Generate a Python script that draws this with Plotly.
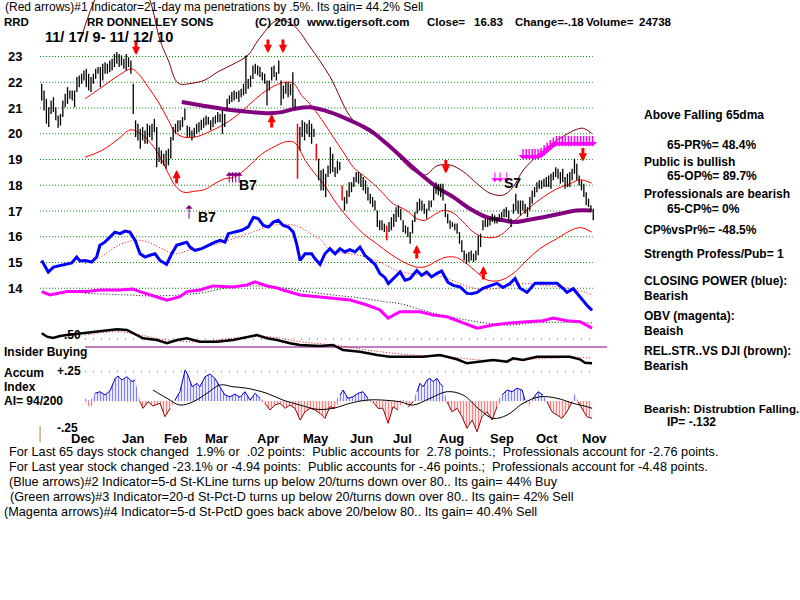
import plotly.graph_objects as go

# ---------------- DATA ----------------
# daily price bars (index 0 = 11/17/09 ... last = 11/12/10)
HIGH = [21.94,21.68,21.36,21.03,21.29,21.42,21.03,20.71,20.77,21.29,
        21.55,21.81,21.68,21.68,21.68,22.20,22.26,22.33,22.46,22.52,
        22.33,22.20,22.33,22.52,22.59,22.59,22.72,22.78,22.72,22.84,
        22.91,23.10,23.17,23.10,23.04,22.91,23.10,22.97,22.84,21.94,
        20.52,20.39,20.19,20.26,20.13,20.39,20.32,20.39,20.58,20.26,
        19.48,19.35,19.22,19.35,19.42,19.87,20.26,20.39,20.52,20.52,
        20.65,20.97,20.32,20.26,20.13,20.23,20.39,20.45,20.54,20.62,
        20.71,20.65,20.52,20.65,20.71,20.84,20.77,20.90,20.77,21.36,
        21.49,21.62,21.68,21.62,21.68,21.75,21.94,23.04,22.13,22.26,
        22.65,22.72,22.65,22.59,22.39,22.33,22.07,22.07,22.59,22.65,
        22.39,22.84,22.07,21.87,22.00,22.00,21.94,22.39,21.36,20.39,
        20.26,20.52,20.45,20.39,20.52,20.39,20.19,19.61,19.03,18.58,
        18.64,18.45,18.77,19.48,19.22,18.70,18.96,18.90,17.99,17.54,
        17.80,18.12,18.12,18.32,18.51,18.51,18.45,18.32,18.19,17.93,
        17.67,17.54,17.41,17.02,16.64,16.64,16.51,16.44,16.57,16.76,
        16.89,17.15,17.22,17.09,16.64,16.44,16.38,16.18,16.64,16.96,
        17.35,17.48,17.41,17.28,17.09,17.41,17.41,17.93,18.12,18.06,
        18.06,18.06,17.28,16.89,16.64,16.57,16.51,16.51,16.18,15.86,
        15.47,15.34,15.41,15.47,15.34,15.47,16.05,16.12,16.64,16.70,
        16.70,16.76,16.89,16.83,16.76,16.89,16.96,17.09,17.15,17.02,
        16.70,17.28,17.67,17.41,17.41,17.41,17.28,17.15,17.54,17.80,
        17.93,18.12,18.19,18.19,18.25,18.32,18.38,18.45,18.51,18.70,
        18.64,18.51,18.64,18.32,18.45,18.51,18.64,19.03,18.83,18.38,
        18.19,18.06,17.73,17.48,17.22,17.09]
LOW = [21.29,20.90,20.39,20.26,20.77,20.84,20.52,20.23,20.32,20.65,
       21.03,21.16,21.36,21.29,21.03,21.62,21.81,21.94,22.07,21.81,
       21.68,21.62,21.94,22.13,22.33,21.81,22.07,22.33,22.33,22.39,
       22.46,22.59,22.72,22.59,22.65,22.52,22.46,22.59,22.33,20.77,
       19.87,19.74,19.42,19.74,19.61,19.61,19.87,19.74,20.06,18.70,
       18.90,18.83,18.77,18.64,18.77,19.03,19.74,20.00,20.06,20.13,
       20.26,20.52,19.87,19.87,19.74,19.87,20.00,20.06,20.15,20.23,
       20.32,20.36,20.15,20.26,20.39,20.45,20.45,20.00,20.26,20.90,
       21.16,21.23,21.29,21.36,21.23,21.42,21.49,21.55,21.75,21.81,
       22.13,22.33,22.26,22.20,22.07,21.94,21.10,21.68,22.07,22.20,
       22.07,22.33,21.10,21.36,21.55,21.42,21.49,21.03,20.97,18.25,
       19.35,19.87,19.74,20.00,19.87,19.61,19.87,18.96,18.19,17.80,
       17.80,17.54,18.32,18.45,18.51,18.32,18.45,18.58,17.41,17.02,
       17.28,17.54,17.73,17.93,18.12,18.06,17.93,17.80,17.67,17.41,
       17.28,17.15,17.02,16.38,16.25,16.25,16.18,15.86,16.18,16.25,
       16.38,16.57,16.76,16.64,16.18,16.12,15.99,15.73,16.12,16.57,
       16.89,17.02,17.02,16.89,16.70,17.02,17.15,17.41,17.67,17.61,
       17.54,17.41,16.76,16.51,16.31,16.38,16.25,16.12,15.73,15.41,
       15.08,14.95,15.02,15.08,15.02,15.08,15.28,15.60,16.25,16.38,
       16.38,16.44,16.57,16.51,16.51,16.57,16.64,16.76,16.76,16.64,
       16.38,16.89,17.02,16.89,16.83,17.02,16.89,16.76,17.02,17.28,
       17.54,17.73,17.86,17.86,17.93,17.93,17.93,17.86,18.19,18.32,
       18.25,18.06,18.12,17.86,17.93,17.93,18.19,18.45,18.19,17.99,
       17.80,17.54,17.22,17.15,16.96,16.64]
RED_BARS = [109, 117, 128, 147]

# 21-day moving average (red)
MA21_X = [18.5,25.6,32.7,38.3,41.2,45.4,49.7,54.0,56.8,60.4,65.3,71.0,76.7,82.4,88.1,93.7,
          99.4,103.7,107.2,110.8,114.3,119.3,124.2,128.5,132.8,137.0,141.3,145.6,149.8,155.5,
          159.8,163.3,166.9,171.1,175.4,179.6,183.9,188.2,193.8,198.1,202.4,208.1,213.7,219.4,
          225.1,229.4,234.3]
MA21_Y = [21.36,21.81,22.26,22.52,22.33,21.81,21.23,20.52,20.06,19.87,19.87,20.06,20.32,20.65,21.10,21.55,
          21.87,22.00,21.96,21.49,21.15,20.55,19.87,19.29,18.70,18.38,18.06,17.67,17.28,17.02,
          16.70,16.64,16.83,17.02,16.92,16.57,16.18,15.99,15.99,16.25,16.70,17.15,17.54,17.86,
          18.06,18.21,18.08]
# lower band (red)
LOWB_X = [18.5,25.6,32.7,37.6,41.2,45.4,49.7,54.0,56.8,60.4,65.3,69.4,73.7,77.9,82.2,87.8,93.6,
          99.4,103.5,107.2,109.4,112.3,116.4,120.0,125.7,131.4,137.0,142.7,148.4,154.1,159.8,
          164.0,168.3,172.5,176.8,181.1,185.3,189.6,193.8,198.1,202.4,206.6,212.3,219.4,226.5,
          230.1,234.3]
LOWB_Y = [19.09,19.35,19.80,20.15,20.06,19.74,19.22,18.45,17.99,17.73,17.77,17.83,18.06,18.25,18.32,18.70,19.20,
          19.51,19.68,19.68,19.48,18.96,18.45,18.06,17.28,16.64,16.12,15.73,15.34,15.02,14.82,
          14.85,15.06,15.21,15.19,14.95,14.63,14.33,14.28,14.41,14.69,15.08,15.54,15.92,16.29,
          16.35,16.18]
# upper band (maroon)
UPB_X = [16.3,24.8,37.6,46.1,50.4,53.9,58.2,63.9,69.6,75.2,82.4,88.0,92.3,100.3,107.1,114.3,
         122.8,132.6,142.7,149.8,157.0,163.4,168.3,174.0,179.6,185.3,191.0,196.7,200.9,205.2,
         212.3,220.8,227.9,230.8,234.3]
UPB_Y = [23.56,25.6,27.0,25.2,23.64,22.86,21.96,21.96,22.09,22.41,22.74,23.06,23.64,24.40,24.22,23.38,
         22.22,20.53,19.89,19.37,18.66,18.40,18.75,18.79,18.53,18.08,17.69,17.62,17.94,18.59,
         19.24,19.82,20.17,20.21,20.02]
# 65-day moving average (purple, thick)
MA65_X = [59.7,68.2,76.7,82.4,89.5,96.6,102.3,107.9,114.3,122.8,131.4,139.9,147.0,154.1,161.2,
          168.3,175.4,182.5,189.6,196.7,201.0,206.6,213.7,220.8,227.9,234.3]
MA65_Y = [21.23,21.10,20.97,20.90,20.84,20.80,20.84,20.97,21.03,20.84,20.52,20.13,19.61,19.03,18.45,
          17.93,17.54,17.09,16.76,16.64,16.57,16.64,16.76,16.89,17.02,17.02]

# Closing Power (blue) - plotted against the price grid
CP_X = [0,2.8,5.0,8.5,12.8,14.9,16.3,18.5,21.3,23.4,24.8,26.9,29.1,31.2,33.4,35.5,37.6,39.8,
        41.9,44.0,46.1,48.3,50.4,53.2,55.4,57.5,59.6,61.8,63.2,65.3,68.2,71.0,73.8,76.0,78.1,
        79.5,82.4,85.2,88.0,90.2,92.3,94.4,96.6,98.7,100.8,102.9,105.1,107.2,108.6,110.1,112.2,
        115.0,116.4,118.6,120.7,122.8,125.0,127.1,129.2,131.3,133.5,135.6,137.7,139.9,142.0,
        144.1,146.3,147.7,149.8,152.7,154.8,156.9,159.8,161.9,164.0,166.1,168.3,170.4,173.1,
        175.4,178.2,181.2,183.2,185.5,188.0,191.0,194.0,196.5,199.5,201.7,203.8,206.8,210.2,
        215.3,219.6,222.3,223.8,226.5,228.1,230.1,232.3,234.5]
CP_Y = [15.08,14.63,14.82,14.89,14.98,15.21,15.06,15.08,15.02,15.21,15.67,15.79,15.99,16.18,16.12,
        16.22,16.18,15.86,15.34,15.21,15.28,15.34,15.08,14.93,15.34,15.67,15.73,15.79,15.60,15.47,
        15.54,15.67,15.79,15.86,15.79,16.12,16.18,16.25,16.38,16.76,16.70,16.44,16.38,16.57,16.64,
        16.44,16.38,16.18,15.73,15.08,15.34,15.34,
        15.15,14.93,15.34,15.54,15.34,15.54,15.41,15.50,15.41,15.60,15.28,15.11,14.93,14.57,14.41,
        14.18,14.37,14.63,14.31,14.37,14.69,14.50,14.63,14.44,14.57,14.67,14.23,14.11,14.05,13.80,
        13.79,13.84,14.00,14.11,14.19,14.03,14.18,14.38,14.00,13.84,14.19,14.19,14.19,13.98,13.84,
        13.98,13.80,13.59,13.34,13.14]
CPMA_X = [18.5,25.6,32.7,39.8,45.4,51.1,56.8,62.5,71.0,79.5,88.0,96.6,102.3,108.0,113.6,119.3,
          122.8,131.3,138.4,145.6,151.2,156.9,164.0,171.1,178.2,185.3,192.4,199.5,206.6,213.7,
          220.8,227.9,234.3]
CPMA_Y = [14.95,15.24,15.67,15.86,15.79,15.54,15.34,15.47,15.63,15.86,16.12,16.40,16.48,16.44,16.18,15.85,
          15.47,15.34,15.21,14.95,14.69,14.57,14.50,14.44,14.18,13.98,13.98,14.11,14.18,14.11,
          14.05,13.94,13.76]
# OBV (magenta) - plotted against the price grid
OBV_X = [0,3.5,10.8,19.3,24.8,33.3,38.9,41.9,50.4,53.4,58.9,61.9,67.4,73.0,81.5,87.5,90.9,96.0,
         100.3,102.8,110.1,117.3,124.1,131.4,138.6,144.1,147.6,152.7,161.2,166.7,172.7,178.2,
         185.5,192.3,199.5,206.8,213.6,217.9,223.8,229.4,234.5]
OBV_Y = [13.87,13.74,13.87,13.87,13.93,13.93,13.97,13.87,13.62,13.54,13.67,13.87,13.93,14.09,14.05,
         14.13,14.25,14.09,14.01,13.93,13.74,13.67,13.62,13.54,13.35,13.16,12.84,13.09,13.09,12.96,
         12.89,12.70,12.45,12.57,12.65,12.70,12.74,12.84,12.74,12.70,12.45]
OBVMA_X = [18.5,36.5,46.5,59,67.4,79,93,103,113,124,136,146,152.7,166.7,181,189.7,199.5,209,220.8,234.5]
OBVMA_Y = [13.80,13.74,13.70,13.74,13.81,14.01,14.09,14.01,13.87,13.74,13.62,13.48,13.40,13.04,
           12.77,12.65,12.57,12.65,12.68,12.65]

# Relative strength vs DJI (black), arbitrary units, 0 = the purple reference line
RS_X = [0,2.3,4.8,7.8,10.8,15,17.6,21.9,27.8,32.1,36.3,38.9,43.2,49.1,53.4,57.7,61.9,67.4,74.7,
        81.5,87.5,91.7,96,100.3,105.8,110.1,118.6,124.1,128.4,135.6,142.9,148.4,155.6,162.5,
        169.7,176.9,181.2,186.8,192.3,198.3,200.8,205.1,211,217.9,225,229.3,231.5,234.5]
RS_V = [13.7,10.3,9,11,12,13,14,15.3,16.3,17.7,17,13.7,8.7,7,3.7,7,8.7,5.3,5.3,7,10.3,12,8.7,7,
        3.7,2,1,2,-3,-4.7,-8,-9.7,-9.7,-9.7,-8,-12.3,-16.3,-14.7,-13,-14.7,-11.3,-13,-9.7,-9.7,
        -9.7,-12.3,-15.7,-16.3]
RSMA_X = [18.5,32.1,41.9,53.4,67.4,81.5,96,110.1,124.1,138.6,144.1,158,172.7,186.8,200.8,215.3,229.4,234.5]
RSMA_V = [12,15.3,12,7,5.3,8.7,10.3,5.3,2,-3,-4.7,-8,-9.7,-13,-13,-11.3,-10.3,-11.3]

# Accumulation index
AI_X = [18.4,20.6,22.7,24.8,27.0,29.1,31.3,32.5,34.2,36.3,38.5,39.8,41.9,43.2,45.3,47.4,50.4,52.5,
        54.7,56.8,58.9,61.1,62.3,64.1,66.2,67.4,69.6,71.7,73.8,75.9,78.1,80.2,82.4,84.5,86.6,88.8,
        90.9,93.0,95.1,97.3,99.4,101.5,103.7,105.8,107.9,110.1,112.2,114.3,116.4,118.6,120.7,
        122.8,125.0,127.1,128.4,130.5,132.6,134.8,136.9,139.0,141.1,143.3,145.4,147.6,149.7,
        151.8,153.9,156.1,158.2,159.9,161.2,162.5,164.2,165.5,166.7,168.4,169.7,171.0,172.7,
        174.8,177.0,179.1,181.2,183.4,185.5,187.6,189.7,191.9,194.0,196.1,198.3,200.4,202.5,
        204.7,205.9,207.5,209.3,211.5,213.6,215.3,217.4,219.6,221.7,223.8,226.0,227.2,228.5,
        230.6,232.3,234.5]
AI_V = [0.023,-0.062,0.065,0.079,0.051,0.087,0.192,0.212,0.178,0.206,0.164,0.178,-0.006,-0.062,
        -0.006,-0.042,-0.019,-0.133,-0.062,0.008,0.079,0.263,0.220,0.121,0.150,0.121,0.206,0.229,
        0.192,0.121,0.051,0.036,0.059,0.031,0.079,0.008,0.065,0.023,-0.019,-0.076,-0.034,-0.019,
        -0.062,-0.034,-0.062,-0.161,-0.091,-0.062,-0.076,-0.104,-0.147,-0.048,-0.062,0.051,0.093,
        0.023,0.036,0.065,0.079,0.023,-0.006,-0.062,-0.062,-0.189,-0.048,-0.076,0.008,-0.053,
        -0.006,0.079,0.150,0.121,0.178,0.192,0.164,0.192,0.150,0.121,-0.006,-0.091,-0.062,-0.133,
        -0.231,-0.161,-0.260,-0.133,-0.091,-0.161,-0.048,0.051,0.093,0.079,0.108,0.093,0.008,
        -0.048,0.023,0.079,0.051,-0.006,-0.091,-0.119,-0.147,-0.091,-0.006,0.065,-0.006,-0.076,
        -0.133,-0.147]
AIMA_X = [47.4,53.4,58.9,64.5,70.4,76,81.5,87.5,96,102.8,110.1,117.3,124.1,131.4,138.6,145.4,
          152.7,158.2,165.5,172.7,179.5,186.8,192.3,198.3,205.1,212.3,219.6,226.4,232.3,234.5]
AIMA_V = [0.093,0.023,-0.034,-0.006,0.065,0.136,0.121,0.108,0.065,0.008,-0.034,-0.070,-0.062,
          -0.019,0.008,0.008,-0.006,-0.034,0.023,0.079,0.051,-0.076,-0.147,-0.119,-0.019,0.036,
          0.023,-0.019,-0.048,-0.062]

# signal arrows: (bar index, price at the arrow tip)
RED_DOWN = [(40.2, 23.06), (96.4, 23.14), (102.8, 23.14), (172.2, 18.46), (230.6, 18.92)]
RED_UP = [(57.5, 18.59), (98.0, 20.77), (159.8, 15.68), (188.2, 14.86)]
B7_SINGLE = [(62.8, 17.23)]
B7_CLUSTER = [(79.9, 18.51), (81.3, 18.51), (82.7, 18.51), (84.1, 18.51)]
S7_ARROWS = [(193.1, 18.13), (195.3, 18.13), (198.2, 18.13)]
MAG_COMB = [(205.1, 19.00), (206.4, 19.00), (207.7, 19.00), (209.0, 19.00), (210.2, 19.00),
            (211.5, 19.00), (212.8, 19.05), (214.1, 19.15), (215.4, 19.25), (216.7, 19.35),
            (218.0, 19.45), (219.3, 19.50), (220.6, 19.50), (221.8, 19.50), (223.1, 19.50),
            (224.4, 19.50), (225.7, 19.50), (227.0, 19.50), (228.3, 19.50), (229.6, 19.50),
            (230.9, 19.50), (232.1, 19.50), (233.4, 19.50), (234.7, 19.50)]

PRICE_TICKS = [23, 22, 21, 20, 19, 18, 17, 16, 15, 14]
MONTHS = ['Dec', 'Jan', 'Feb', 'Mar', 'Apr', 'May', 'Jun', 'Jul', 'Aug', 'Sep', 'Oct', 'Nov']
MONTH_POS = [17.6, 38.9, 57.2, 74.3, 96.4, 116.9, 136.1, 153.9, 174.8, 196.1, 215.3, 235.7]

HEADER1 = "(Red arrows)#1 Indicator=21-day ma penetrations by .5%. Its gain= 44.2% Sell"
HEADER2 = [("RRD", 2), ("RR DONNELLEY SONS", 85), ("(C) 2010", 253), ("www.tigersoft.com", 304),
           ("Close=", 425), ("16.83", 472), ("Change=-.18", 513), ("Volume=", 584), ("24738", 637)]
RIGHT_TEXT = [
    ("Above Falling 65dma", 642, 115), ("65-PR%= 48.4%", 665, 145),
    ("Public is bullish", 642, 162), ("65-OP%= 89.7%", 665, 176),
    ("Professionals are bearish", 642, 194), ("65-CP%= 0%", 665, 209),
    ("CP%vsPr%= -48.5%", 642, 230), ("Strength Profess/Pub= 1", 642, 254),
    ("CLOSING POWER (blue):", 642, 281), ("Bearish", 642, 296),
    ("OBV (magenta):", 642, 316), ("Beaish", 642, 331),
    ("REL.STR..VS DJI (brown):", 642, 351), ("Bearish", 642, 366),
    ("Bearish: Distrubtion Falling.", 642, 408), ("IP= -.132", 665, 422)]
BOTTOM_TEXT = [
    ("For Last 65 days stock changed  1.9% or  .02 points:  Public accounts for  2.78 points.;  Professionals account for -2.76 points.", 7, 452),
    ("For Last year stock changed -23.1% or -4.94 points:  Public accounts for -.46 points.;  Professionals account for -4.48 points.", 7, 467),
    ("(Blue arrows)#2 Indicator=5-d St-KLine turns up below 20/turns down over 80.. Its gain= 44% Buy", 7, 482),
    ("(Green arrows)#3 Indicator=20-d St-Pct-D turns up below 20/turns down over 80.. Its gain= 42% Sell", 8, 497),
    ("(Magenta arrows)#4 Indicator=5-d St-PctD goes back above 20/below 80.. Its gain= 40.4% Sell", 2, 512)]

# ---------------- FIGURE ----------------
FONT = "Liberation Sans, Arial, sans-serif"
W, H = 800, 600
fig = go.Figure()


def line(x, y, color, width, dash=None, yaxis='y', shape='linear'):
    fig.add_trace(go.Scatter(x=x, y=y, mode='lines', yaxis=yaxis, hoverinfo='skip',
                             line=dict(color=color, width=width, dash=dash, shape=shape)))


# price grid
for p in PRICE_TICKS:
    line([-0.7, 234.8], [p, p], '#008000', 1, dash='1px,2px')

# lower panel reference lines
line([18.4, 234.5], [8, 8], '#909090', 1.5, dash='1px,7px', yaxis='y2')
line([18.4, 240.9], [0, 0], '#800080', 1, yaxis='y2')
line([18.4, 234.5], [0.25, 0.25], '#909090', 1.5, dash='1px,7px', yaxis='y3')

# bands and averages
line(UPB_X, UPB_Y, '#800000', 1, shape='spline')
line(LOWB_X, LOWB_Y, '#ff0000', 1, shape='spline')
line(MA21_X, MA21_Y, '#ff0000', 1, shape='spline')
line(MA65_X, MA65_Y, '#800080', 4, shape='spline')

# price bars
bx, by, rx, ry = [], [], [], []
for i, (h, l) in enumerate(zip(HIGH, LOW)):
    if i in RED_BARS:
        rx += [i, i, None]; ry += [h, l, None]
    else:
        bx += [i, i, None]; by += [h, l, None]
line(bx, by, 'black', 1.3)
line(rx, ry, '#ff0000', 1.5)

# closing power and OBV
line(CPMA_X, CPMA_Y, '#ff0000', 1, dash='1px,2px', shape='spline')
line(CP_X, CP_Y, '#0000ff', 3)
line(OBVMA_X, OBVMA_Y, 'black', 1, dash='1px,2px', shape='spline')
line(OBV_X, OBV_Y, '#ff00ff', 3)

# relative strength
line(RSMA_X, RSMA_V, '#ff0000', 1, dash='1px,2px', yaxis='y2', shape='spline')
line(RS_X, RS_V, 'black', 2.5, yaxis='y2')

# accumulation index
ai_pos = [max(v, 0) for v in AI_V]
ai_neg = [min(v, 0) for v in AI_V]
fig.add_trace(go.Scatter(x=AI_X, y=ai_pos, yaxis='y3', mode='lines', fill='tozeroy',
                         line=dict(width=0, color='blue'), fillcolor='rgba(0,0,0,0)',
                         fillpattern=dict(shape='|', fgcolor='#0000ff', bgcolor='rgba(0,0,0,0)',
                                          size=3, solidity=0.45), hoverinfo='skip'))
fig.add_trace(go.Scatter(x=AI_X, y=ai_neg, yaxis='y3', mode='lines', fill='tozeroy',
                         line=dict(width=0, color='red'), fillcolor='rgba(0,0,0,0)',
                         fillpattern=dict(shape='|', fgcolor='#ff0000', bgcolor='rgba(0,0,0,0)',
                                          size=3, solidity=0.45), hoverinfo='skip'))
line(AI_X, [v if v >= 0 else None for v in AI_V], '#0000cc', 1, yaxis='y3')
line(AI_X, [v if v <= 0 else None for v in AI_V], '#990000', 1, yaxis='y3')
line(AIMA_X, AIMA_V, 'black', 1, yaxis='y3', shape='spline')

annotations = []


def text(s, px, py, size=12, bold=True, anchor='left', color='black'):
    annotations.append(dict(text=('<b>%s</b>' % s) if bold else s, x=px / W, y=1 - py / H,
                            xref='paper', yref='paper', xanchor=anchor, yanchor='middle',
                            showarrow=False, font=dict(family=FONT, size=size, color=color)))


def arrow(x, y, dy, color, width, head=2, size=1.0):
    annotations.append(dict(x=x, y=y, xref='x', yref='y', ax=0, ay=dy, text='',
                            showarrow=True, arrowhead=head, arrowsize=size,
                            arrowwidth=width, arrowcolor=color))


for x, y in RED_DOWN:
    arrow(x, y, -15, '#ff0000', 3, head=2, size=0.55)
for x, y in RED_UP:
    arrow(x, y, 15, '#ff0000', 3, head=2, size=0.55)
for x, y in B7_SINGLE:
    arrow(x, y, 15, '#800080', 1, head=1, size=1.2)
for x, y in B7_CLUSTER:
    arrow(x, y, 12, '#800080', 1, head=1, size=1.2)
for x, y in S7_ARROWS:
    arrow(x, y, -11, '#ff00ff', 1, head=1, size=1.2)
for x, y in MAG_COMB:
    arrow(x, y, -12, '#ff00ff', 1.5, head=1, size=1.0)

# marker labels
for s, x, y in [("B7", 65.9, 16.77), ("B7", 83.2, 18.0), ("S7", 196.1, 18.09)]:
    annotations.append(dict(text='<b>%s</b>' % s, x=x, y=y, xref='x', yref='y', xanchor='left',
                            yanchor='middle', showarrow=False,
                            font=dict(family=FONT, size=14, color='black')))

# y labels of the price grid
for p in PRICE_TICKS:
    annotations.append(dict(text='<b>%d</b>' % p, x=6 / W, y=p, xref='paper', yref='y',
                            xanchor='left', yanchor='middle', showarrow=False,
                            font=dict(family=FONT, size=13, color='black')))

# month labels
for m, x in zip(MONTHS, MONTH_POS):
    annotations.append(dict(text='<b>%s</b>' % m, x=x, y=1 - 438 / H, xref='x', yref='paper',
                            xanchor='center', yanchor='middle', showarrow=False,
                            font=dict(family=FONT, size=13, color='black')))

# header
text(HEADER1, 3, 7, size=12, bold=False)
for s, x in HEADER2:
    text(s, x, 22, size=11.5)
text("11/ 17/ 9- 11/ 12/ 10", 43, 37, size=14.5)

# lower-left labels
text(".50", 62, 335)
text("Insider Buying", 2, 352)
text("Accum", 2, 373)
text("Index", 2, 387)
text("AI= 94/200", 2, 401)
text("+.25", 55, 371)
text("-.25", 55, 428)

for s, x, y in RIGHT_TEXT:
    text(s, x, y, size=11.6 if s.startswith("Bearish:") else 12)
for s, x, y in BOTTOM_TEXT:
    text(s, x, y, size=12.7, bold=False)

fig.update_layout(
    width=W, height=H, margin=dict(l=0, r=0, t=0, b=0), showlegend=False,
    paper_bgcolor='white', plot_bgcolor='white', annotations=annotations,
    shapes=[dict(type='line', xref='x', yref='paper', x0=-0.7, x1=-0.7,
                 y0=1 - 442 / H, y1=1 - 426 / H, line=dict(color='#a08a30', width=1))],
    xaxis=dict(range=[-17.77, 323.1], visible=False, fixedrange=True),
    yaxis=dict(range=[1.893, 25.194], visible=False, fixedrange=True),
    yaxis2=dict(range=[-253, 347], visible=False, overlaying='y', anchor='x'),
    yaxis3=dict(range=[-1.686, 3.398], visible=False, overlaying='y', anchor='x'),
)

fig.write_html("out.html")
